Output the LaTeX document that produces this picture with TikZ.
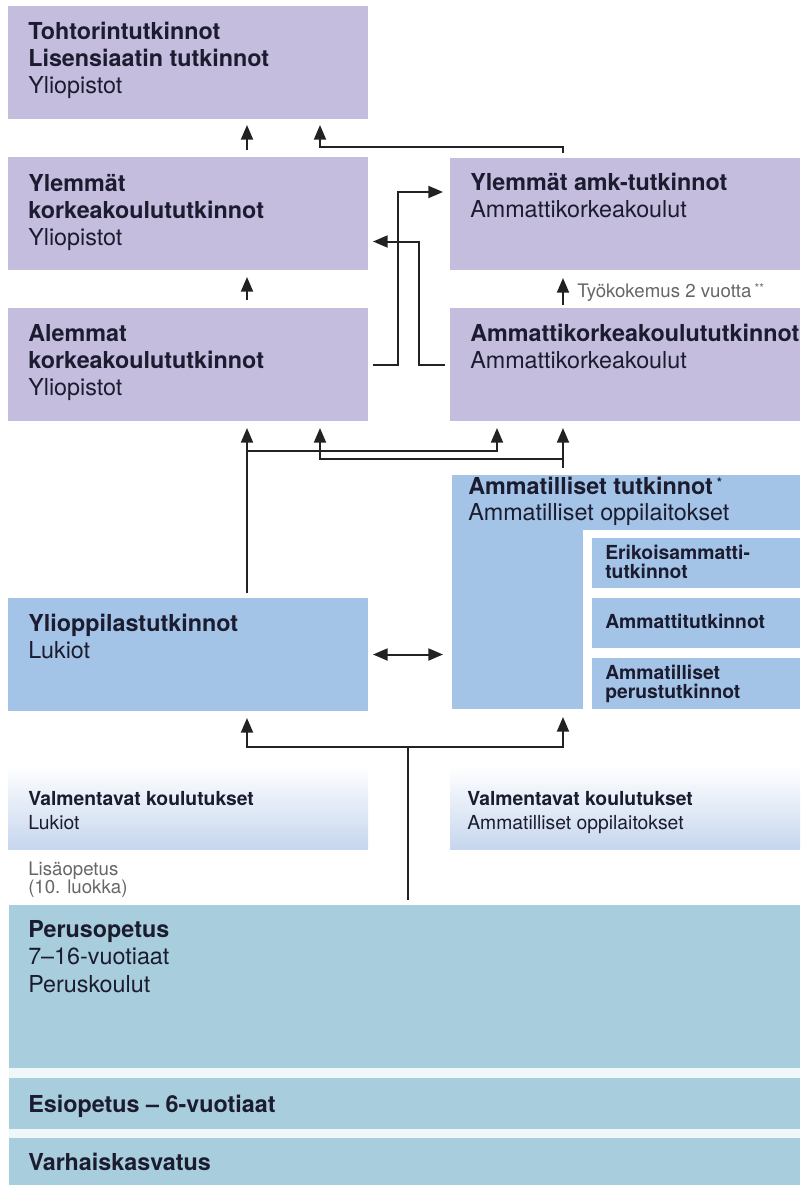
\documentclass[tikz,border=0pt]{standalone}
\usepackage{fontspec}
\setmainfont{TeX Gyre Heros}
\usetikzlibrary{arrows.meta,calc,fit}
\definecolor{lav}{RGB}{196,189,222}
\definecolor{blu}{RGB}{164,196,231}
\definecolor{teal}{RGB}{168,205,220}
\definecolor{valm}{RGB}{198,214,238}
\definecolor{ink}{RGB}{28,28,48}
\definecolor{lineC}{RGB}{34,34,34}
\definecolor{gap}{RGB}{238,248,251}
\begin{document}
\begin{tikzpicture}[x=0.75pt,y=-0.75pt,
  blk/.style={inner sep=0pt, outer sep=0pt, draw=none},
  big/.style={inner sep=0pt, anchor=base west, align=left, text=ink, font=\fontsize{17.5}{20}\selectfont},
  amm/.style={big, font=\fontsize{17.5}{19}\selectfont},
  peru/.style={big, font=\fontsize{17.5}{20.6}\selectfont},
  mid/.style={inner sep=0pt, anchor=base west, align=left, text=ink, font=\fontsize{14.5}{17.5}\selectfont},
  subt/.style={inner sep=0pt, anchor=base west, align=left, text=ink, font=\fontsize{14.5}{14}\selectfont},
  note/.style={inner sep=0pt, anchor=base west, align=left, text=black!60, font=\fontsize{14}{13.5}\selectfont},
  conn/.style={line width=1.5pt, draw=lineC},
  tip/.style={-{Triangle[length=11pt,width=9pt]}},
  arr/.style={conn, tip},
]
\useasboundingbox (0,0) rectangle (800,1185);
\clip (0,0) rectangle (800,1185);

% ---- boxes ----
\node[blk, fill=lav, fit={(8,6)(368,119)}] (doc) {};
\node[blk, fill=lav, fit={(8,157)(368,270)}] (ylem) {};
\node[blk, fill=lav, fit={(8,308)(368,421)}] (alem) {};
\node[blk, fill=lav, fit={(450,158)(800,270)}] (amkyl) {};
\node[blk, fill=lav, fit={(450,308)(800,421)}] (amk) {};
\node[blk, fill=blu, fit={(8,598)(368,711)}] (lukio) {};
\node[blk, fill=blu, fit={(452,475)(800,709)}] (ammat) {};
\fill[white] (583,530) rectangle (800,712);
\node[blk, fill=blu, fit={(592,538)(800,588)}] (erik) {};
\node[blk, fill=blu, fit={(592,598)(800,648)}] (ammt) {};
\node[blk, fill=blu, fit={(592,658)(800,709)}] (perust) {};
\node[blk, top color=white, bottom color=valm, fit={(8,765)(368,849)}] (valmL) {};
\node[blk, top color=white, bottom color=valm, fit={(450,767)(800,849)}] (valmR) {};
\fill[gap] (9,1068) rectangle (800,1138);
\node[blk, fill=teal, fit={(9,905)(800,1068)}] (peruso) {};
\node[blk, fill=teal, fit={(9,1078)(800,1129)}] (esi) {};
\node[blk, fill=teal, fit={(9,1138)(800,1185)}] (varh) {};

% ---- texts (anchor = baseline of last line) ----
\node[big] (tdoc) at (28,93) {\textbf{Tohtorintutkinnot}\\\textbf{Lisensiaatin tutkinnot}\\Yliopistot};
\node[big] (tylem) at (28,245) {\textbf{Ylemmät}\\\textbf{korkeakoulututkinnot}\\Yliopistot};
\node[big] (talem) at (28,395) {\textbf{Alemmat}\\\textbf{korkeakoulututkinnot}\\Yliopistot};
\node[big] (tamkyl) at (470,217) {\textbf{Ylemmät amk-tutkinnot}\\Ammattikorkeakoulut};
\node[big] (tamk) at (470,368) {\textbf{Ammattikorkeakoulututkinnot}\\Ammattikorkeakoulut};
\node[big] (tlukio) at (28,658) {\textbf{Ylioppilastutkinnot}\\Lukiot};
\node[amm] (tammat) at (468,520) {\textbf{Ammatilliset tutkinnot}\,\raisebox{0.55ex}{\fontsize{10}{10}\selectfont\textbf{*}}\\Ammatilliset oppilaitokset};
\node[subt] (terik) at (605,578) {\textbf{Erikoisammatti-}\\\textbf{tutkinnot}};
\node[subt] (tammt) at (605,628) {\textbf{Ammattitutkinnot}};
\node[subt] (tperust) at (605,698) {\textbf{Ammatilliset}\\\textbf{perustutkinnot}};
\node[mid] (tvalmL) at (28,829) {\textbf{Valmentavat koulutukset}\\Lukiot};
\node[mid] (tvalmR) at (467,829) {\textbf{Valmentavat koulutukset}\\Ammatilliset oppilaitokset};
\node[note] (tlisa) at (28,893) {Lisäopetus\\(10. luokka)};
\node[peru] (tperuso) at (28,992) {\textbf{Perusopetus}\\7–16-vuotiaat\\Peruskoulut};
\node[big] (tesi) at (28,1112) {\textbf{Esiopetus – 6-vuotiaat}};
\node[big] (tvarh) at (28,1170) {\textbf{Varhaiskasvatus}};

% ---- connector columns ----
\coordinate (xA) at (247,0);
\coordinate (xB) at (320,0);
\coordinate (xC) at (497,0);
\coordinate (xD) at (563,0);
\coordinate (xE) at (408,0);

% top arrows
\draw[arr, shorten <=5.25pt, shorten >=4.5pt] (xA |- ylem.north) -- (xA |- doc.south);
\draw[arr] ($(xD |- amkyl.north)+(0,-5)$) -- ($(xD |- amkyl.north)+(0,-11)$) -| ($(xB |- doc.south)+(0,6)$);
\draw[arr, shorten <=6pt, shorten >=5.25pt] (xA |- alem.north) -- (xA |- ylem.south);
\draw[arr] ($(alem.east)+(5,0)$) -- ++(25,0) |- ($(amkyl.west)+(-7,-22)$);
\draw[arr] ($(amk.west)+(-5,0)$) -- ++(-26,0) |- ($(ylem.east)+(5,28)$);
\draw[arr, shorten <=2.25pt, shorten >=6pt] (xD |- amk.north) -- (xD |- amkyl.south);
\node[note, anchor=base west] (tyo) at (577,297) {Työkokemus 2 vuotta\,\raisebox{0.5ex}{\fontsize{9}{9}\selectfont **}};

% middle arrows
\coordinate (j1) at (247,451);
\coordinate (j2) at (563,459);
\draw[arr, shorten <=3.75pt, shorten >=5.25pt] (xA |- lukio.north) -- (xA |- alem.south);
\draw[arr] (j1) -| ($(xC |- amk.south)+(0,7)$);
\draw[arr] ($(xD |- ammat.north)+(0,-7)$) -- ($(xD |- amk.south)+(0,7)$);
\draw[arr] (j2) -| ($(xB |- alem.south)+(0,7)$);
\draw[conn, {Triangle[length=11pt,width=9pt]}-{Triangle[length=11pt,width=9pt]}] ($(lukio.east)+(5,0)$) -- ($(ammat.west |- lukio.east)+(-9,0)$);

% bottom arrows
\coordinate (j3) at (408,747);
\draw[conn] ($(xE |- peruso.north)+(0,-5)$) -- (j3);
\draw[arr] (j3) -| ($(xA |- lukio.south)+(0,7)$);
\draw[arr] (j3) -| ($(xD |- ammat.south)+(0,8)$);
\end{tikzpicture}
\end{document}
